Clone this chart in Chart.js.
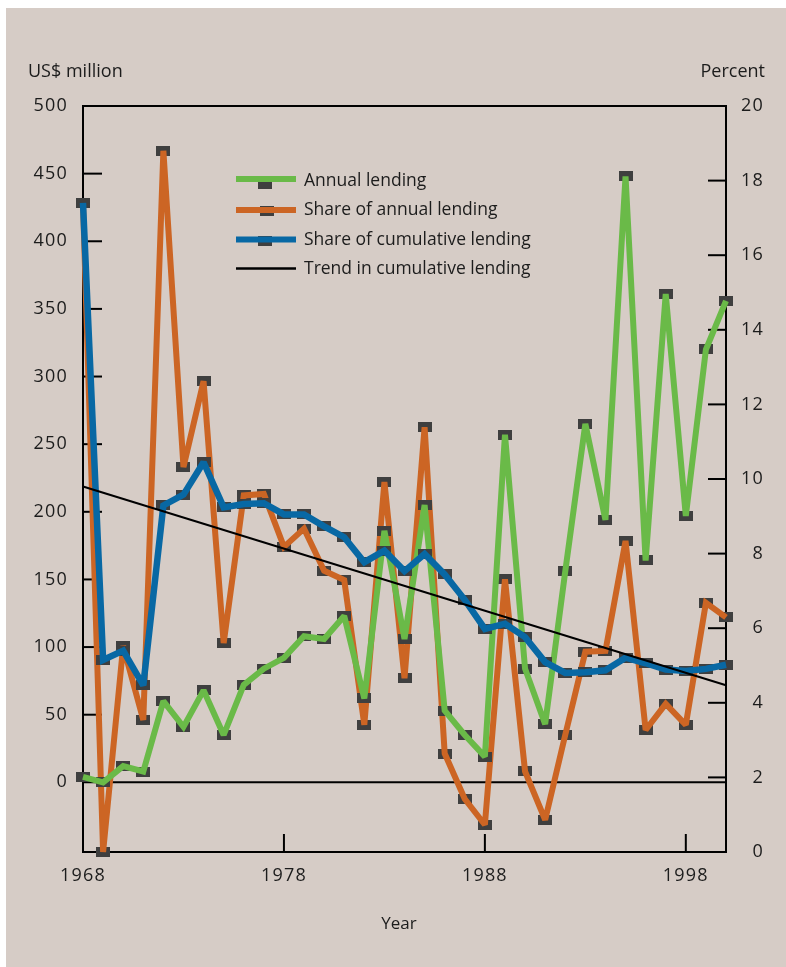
<!DOCTYPE html>
<html><head><meta charset="utf-8">
<script src="https://cdn.jsdelivr.net/npm/chart.js@4.4.1/dist/chart.umd.min.js"></script>
<style>
html,body{margin:0;padding:0;background:#fff;}
#bg{position:absolute;left:6px;top:8px;width:780px;height:959px;background:#d6ccc6;}
#wrap{position:absolute;left:0;top:0;width:786px;height:967px;}
canvas{display:block;}
</style></head><body>
<div id="bg"></div>
<div id="wrap"><canvas id="c" width="786" height="967"></canvas></div>
<script>
// ---- data ----
const years = [1968,1969,1970,1971,1972,1973,1974,1975,1976,1977,1978,1979,1980,1981,1982,1983,1984,1985,1986,1987,1988,1989,1990,1991,1992,1993,1994,1995,1996,1997,1998,1999,2000];
const annualLending = [4,0,12,8,60,41,68,35,72,84,92,108,106,123,62,186,106,205,53,35,19,257,84,43,156,265,194,448,164,361,197,320,356];
const shareAnnual = [17.4,0,5.52,3.54,18.8,10.32,12.62,5.6,9.56,9.6,8.18,8.67,7.54,7.29,3.41,9.92,4.66,11.39,2.64,1.42,0.73,7.31,2.16,0.86,3.14,5.37,5.39,8.34,3.27,3.97,3.41,6.68,6.29];
const shareCumulative = [17.4,5.15,5.40,4.47,9.29,9.58,10.45,9.24,9.33,9.35,9.05,9.05,8.73,8.44,7.77,8.08,7.53,7.99,7.44,6.76,5.98,6.12,5.76,5.09,4.80,4.82,4.87,5.21,5.06,4.89,4.85,4.91,5.02];
const trendYears = [1968, 2000];
const trendValues = [9.8, 4.47];
const xTickValues = [1968, 1978, 1988, 1998];
const leftTickValues = [0,50,100,150,200,250,300,350,400,450,500];
const rightTickValues = [0,2,4,6,8,10,12,14,16,18,20];
const seriesNames = ['Annual lending','Share of annual lending','Share of cumulative lending','Trend in cumulative lending'];
const leftTitle = 'US$ million';
const rightTitle = 'Percent';
const xTitle = 'Year';

// ---- styles ----
const GREEN = '#6aba48', ORANGE = '#cc6524', BLUE = '#0868a4', MARK = '#3f3f3f', INK = '#1c1c1c';
const FONT = '"Open Sans", "Noto Sans", sans-serif';

const mk = document.createElement('canvas');
mk.width = 14; mk.height = 10;
{ const g = mk.getContext('2d'); g.fillStyle = MARK; g.fillRect(0,0,14,10); }

const pts = (xs, ys) => xs.map((x, i) => ({x, y: ys[i]}));

const spacing = {
  id: 'spacing',
  beforeDraw(chart) { if ('letterSpacing' in chart.ctx) chart.ctx.letterSpacing = '1.2px'; }
};

const frame = {
  id: 'frame',
  beforeDatasetsDraw(chart) {
    const {ctx, chartArea: a, scales: {x, y, y1}} = chart;
    ctx.save();
    ctx.strokeStyle = '#000';
    ctx.lineWidth = 2;
    ctx.strokeRect(a.left, a.top, a.right - a.left, a.bottom - a.top);
    const seg = (x0, y0, x1, y1_) => { ctx.beginPath(); ctx.moveTo(x0, y0); ctx.lineTo(x1, y1_); ctx.stroke(); };
    const z = y.getPixelForValue(0);
    seg(a.left, z, a.right, z);
    y.ticks.forEach(t => { if (t.value > 0 && t.value < 500) { const p = y.getPixelForValue(t.value); seg(a.left, p, a.left + 19, p); } });
    y1.ticks.forEach(t => { if (t.value > 0 && t.value < 20) { const p = y1.getPixelForValue(t.value); seg(a.right - 18, p, a.right, p); } });
    x.ticks.forEach(t => { if (t.value > 1968) { const p = x.getPixelForValue(t.value); seg(p, a.bottom - 18, p, a.bottom); } });
    ctx.restore();
    ctx.miterLimit = 2;
  }
};

const texts = {
  id: 'texts',
  afterDraw(chart) {
    const {ctx} = chart;
    ctx.save();
    if ('letterSpacing' in ctx) ctx.letterSpacing = '0px';
    ctx.fillStyle = INK;
    ctx.textBaseline = 'alphabetic';
    ctx.font = '18px ' + FONT;
    ctx.textAlign = 'left';
    ctx.fillText(leftTitle, 28, 77);
    ctx.textAlign = 'right';
    ctx.fillText(rightTitle, 765, 77);
    ctx.font = '17px ' + FONT;
    ctx.textAlign = 'center';
    ctx.fillText(xTitle, 399, 929);
    // legend
    const rows = [
      {color: GREEN, w: 6, ly: 179, mk: true, my: 183.5, mx: 265, ty: 186},
      {color: ORANGE, w: 6, ly: 210, mk: true, my: 211, mx: 267, ty: 215},
      {color: BLUE, w: 6, ly: 239.5, mk: true, my: 241, mx: 265, ty: 244.5},
      {color: '#000', w: 2.5, ly: 268.5, mk: false, ty: 274}
    ];
    ctx.textAlign = 'left';
    ctx.font = '17.5px ' + FONT;
    rows.forEach((r, i) => {
      if (r.mk) ctx.drawImage(mk, r.mx - 7, r.my - 5);
      ctx.strokeStyle = r.color; ctx.lineWidth = r.w;
      ctx.beginPath(); ctx.moveTo(236, r.ly); ctx.lineTo(296, r.ly); ctx.stroke();
      ctx.fillStyle = INK;
      ctx.fillText(seriesNames[i], 304, r.ty);
    });
    ctx.restore();
  }
};

function build() {
  const lineBase = {showLine: true, pointRadius: 0, borderJoinStyle: 'miter', tension: 0, clip: false, fill: false};
  const mkBase = {showLine: false, pointStyle: mk, pointRadius: 5, clip: false};
  const tickFont = {size: 18, family: FONT};
  new Chart(document.getElementById('c'), {
    type: 'line',
    data: {
      datasets: [
        {label: seriesNames[3], data: pts(trendYears, trendValues), yAxisID: 'y1', borderColor: '#000', borderWidth: 2, order: 0, ...lineBase},
        {label: seriesNames[2], data: pts(years, shareCumulative), yAxisID: 'y1', borderColor: BLUE, borderWidth: 6.5, order: 1, ...lineBase},
        {label: seriesNames[2] + ' markers', data: pts(years, shareCumulative), yAxisID: 'y1', order: 2, ...mkBase},
        {label: seriesNames[0], data: pts(years, annualLending), yAxisID: 'y', borderColor: GREEN, borderWidth: 6, order: 3, ...lineBase},
        {label: seriesNames[0] + ' markers', data: pts(years, annualLending), yAxisID: 'y', order: 4, ...mkBase},
        {label: seriesNames[1], data: pts(years, shareAnnual), yAxisID: 'y1', borderColor: ORANGE, borderWidth: 6, order: 5, ...lineBase},
        {label: seriesNames[1] + ' markers', data: pts(years, shareAnnual), yAxisID: 'y1', order: 6, ...mkBase}
      ]
    },
    options: {
      responsive: false,
      devicePixelRatio: 1,
      animation: false,
      events: [],
      layout: {padding: {top: 106, left: 0, right: 22, bottom: 0}},
      plugins: {legend: {display: false}, tooltip: {enabled: false}},
      scales: {
        x: {
          type: 'linear', min: 1968, max: 2000,
          afterBuildTicks: s => { s.ticks = xTickValues.map(v => ({value: v})); },
          afterFit: s => { s.height = 115; },
          grid: {display: false, drawTicks: false},
          border: {display: false},
          ticks: {callback: v => String(v), color: INK, font: tickFont, padding: 13, maxRotation: 0, autoSkip: false}
        },
        y: {
          type: 'linear', position: 'left', min: -51.5, max: 500,
          afterBuildTicks: s => { s.ticks = leftTickValues.map(v => ({value: v})); },
          afterFit: s => { s.width = 83; },
          grid: {display: false, drawTicks: false},
          border: {display: false},
          ticks: {color: INK, font: tickFont, padding: 15}
        },
        y1: {
          type: 'linear', position: 'right', min: 0, max: 20,
          afterBuildTicks: s => { s.ticks = rightTickValues.map(v => ({value: v})); },
          afterFit: s => { s.width = 38; },
          grid: {display: false, drawTicks: false},
          border: {display: false},
          ticks: {color: INK, font: tickFont, padding: 15, crossAlign: 'far'}
        }
      }
    },
    plugins: [spacing, frame, texts]
  });
}
(document.fonts && document.fonts.load ? Promise.all([document.fonts.load('18px "Open Sans"'), document.fonts.load('16px "Open Sans"')]) : Promise.resolve()).then(build, build);
</script>
</body></html>
